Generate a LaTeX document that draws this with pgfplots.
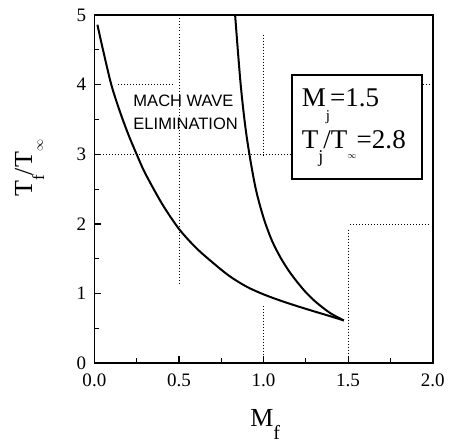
\documentclass[border=0pt]{standalone}
\usepackage{fontspec}
\setmainfont{Liberation Serif}
\newfontfamily\arial{Liberation Sans}
\usepackage{pgfplots}
\pgfplotsset{compat=1.18}
\begin{document}
\begin{tikzpicture}
\begin{axis}[
  scale only axis, width=338pt, height=348pt,
  xmin=0, xmax=2, ymin=0, ymax=5,
  xtick={0,0.5,1,1.5,2}, ytick={0,1,2,3,4,5},
  xticklabels={0.0,0.5,1.0,1.5,2.0},
  yticklabels={0,1,2,3,4,5},
  minor x tick num=1, minor y tick num=1,
  tick pos=left, tick align=inside,
  major tick length=7pt, minor tick length=5pt,
  every tick/.style={line width=1.1pt, black},
  axis line style={line width=1.7pt},
  xticklabel style={inner sep=0pt, yshift=-10pt},
  yticklabel style={inner sep=0pt, xshift=-8pt},
  tick label style={font=\rmfamily\fontsize{19}{19}\selectfont},
  xlabel={M\raisebox{-13pt}{\fontsize{20}{20}\selectfont f}},
  ylabel={T\raisebox{-12pt}{\fontsize{17}{17}\selectfont f}/T\raisebox{-10.6pt}{\fontsize{13}{13}\selectfont $\infty$}},
  xlabel style={at={(axis description cs:0.505,-0.131)}, anchor=north, inner sep=0pt, font=\rmfamily\fontsize{26}{26}\selectfont},
  ylabel style={at={(axis description cs:-0.235,0.56)}, anchor=north, inner sep=0pt, font=\rmfamily\fontsize{26}{26}\selectfont},
]
% partial dotted grid
\addplot[black, line width=0.8pt, dash pattern=on 0.8pt off 2.2pt] coordinates {(0.5,4.95) (0.5,1.15)};
\addplot[black, line width=0.8pt, dash pattern=on 0.8pt off 2.2pt] coordinates {(1.0,4.72) (1.0,2.97)};
\addplot[black, line width=0.8pt, dash pattern=on 0.8pt off 2.2pt] coordinates {(1.0,0.82) (1.0,0)};
\addplot[black, line width=0.8pt, dash pattern=on 0.8pt off 2.2pt] coordinates {(1.5,1.92) (1.5,0)};
\addplot[black, line width=0.8pt, dash pattern=on 0.8pt off 2.2pt] coordinates {(0.14,4) (0.47,4)};
\addplot[black, line width=0.8pt, dash pattern=on 0.8pt off 2.2pt] coordinates {(1.94,4) (1.98,4)};
\addplot[black, line width=0.8pt, dash pattern=on 0.8pt off 2.2pt] coordinates {(0,3) (1.16,3)};
\addplot[black, line width=0.8pt, dash pattern=on 0.8pt off 2.2pt] coordinates {(1.51,2) (1.98,2)};
% lower curve
\addplot[black, line width=2pt, smooth] coordinates {
 (0.018,4.86) (0.05,4.51) (0.1,4.0) (0.15,3.62) (0.2,3.29) (0.25,3.0) (0.3,2.73)
 (0.4,2.29) (0.5,1.93) (0.6,1.66) (0.7,1.445) (0.8,1.25) (0.9,1.10) (1.0,0.99)
 (1.1,0.90) (1.2,0.82) (1.3,0.745) (1.4,0.672) (1.475,0.615)};
% upper curve
\addplot[black, line width=2pt, smooth] coordinates {
 (0.832,5.0) (0.865,4.0) (0.9,3.26) (0.95,2.55) (1.0,2.09) (1.05,1.76) (1.1,1.52)
 (1.15,1.326) (1.2,1.164) (1.25,1.02) (1.3,0.90) (1.35,0.80) (1.4,0.712) (1.475,0.615)};
% annotation
\node[anchor=north west, inner sep=0pt, align=left, font=\arial\fontsize{16.5}{23}\selectfont] at (axis cs:0.23,3.85) {MACH WAVE\\ELIMINATION};
\draw[line width=1.6pt] (axis cs:1.167,4.14) rectangle (axis cs:1.937,2.65);
\node[anchor=base west, inner sep=0pt, font=\rmfamily\fontsize{27}{27}\selectfont] at (axis cs:1.226,3.68) {M\raisebox{-13.5pt}{\fontsize{15}{15}\selectfont j}=1.5};
\node[anchor=base west, inner sep=0pt, font=\rmfamily\fontsize{27}{27}\selectfont] at (axis cs:1.226,3.09) {T\raisebox{-14pt}{\fontsize{18}{18}\selectfont j}/T\raisebox{-10.5pt}{\fontsize{9}{9}\selectfont $\infty$}=2.8};
\coordinate (BBSW) at (rel axis cs:0,0);
\coordinate (BBNE) at (rel axis cs:1,1);
\end{axis}
\pgfresetboundingbox
\path[use as bounding box] ([xshift=-94.3pt,yshift=-82.7pt]BBSW) rectangle ([xshift=23.3pt,yshift=15pt]BBNE);
\end{tikzpicture}
\end{document}
